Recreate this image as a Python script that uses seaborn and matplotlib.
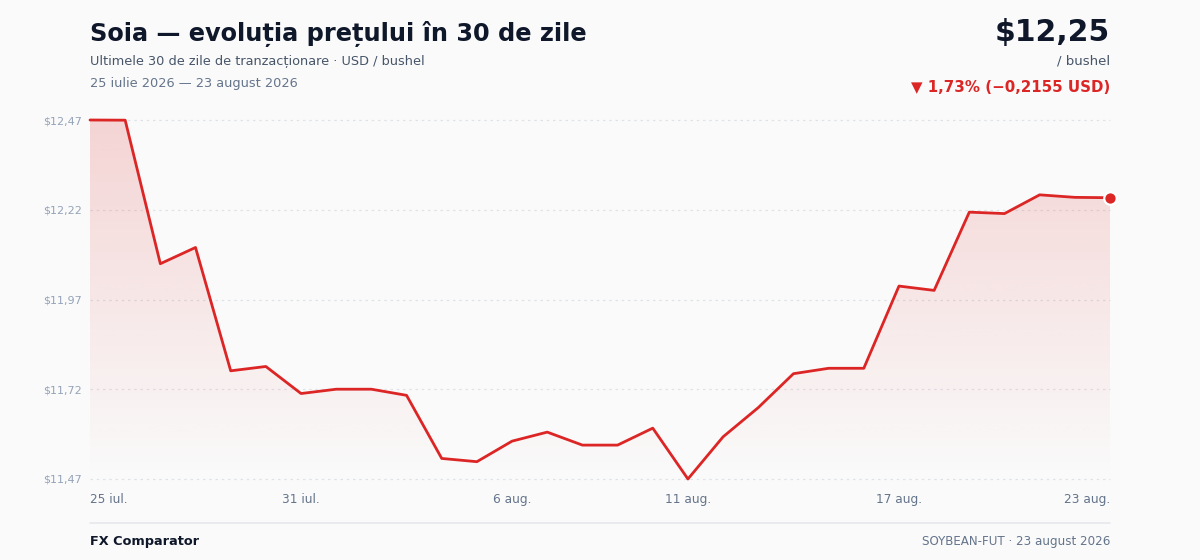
import numpy as np
import pandas as pd
import matplotlib
matplotlib.use("Agg")
import matplotlib.pyplot as plt
import seaborn as sns

# 30 zile de tranzactionare, 25 iul. - 23 aug. 2026
dates = pd.date_range("2026-07-25", "2026-08-23", freq="D")
prices = [12.4655, 12.4650, 12.067, 12.112, 11.770, 11.782, 11.707, 11.719, 11.719, 11.702,
          11.527, 11.518, 11.575, 11.600, 11.564, 11.564, 11.611, 11.470, 11.587, 11.668,
          11.762, 11.777, 11.777, 12.005, 11.993, 12.210, 12.206, 12.258, 12.251, 12.250]
tick_idx = [0, 6, 12, 17, 23, 29]
tick_labels = ["25 iul.", "31 iul.", "6 aug.", "11 aug.", "17 aug.", "23 aug."]

title = "Soia — evoluția prețului în 30 de zile"
subtitle = "Ultimele 30 de zile de tranzacționare · USD / bushel"
period = "25 iulie 2026 — 23 august 2026"
footer_left = "FX Comparator"
footer_right = "SOYBEAN-FUT · 23 august 2026"

RED = "#dc2626"
BG = "#fafafa"

df = pd.DataFrame({"i": np.arange(len(prices)), "date": dates, "price": prices})

first, last = prices[0], prices[-1]
change = last - first
pct = change / first * 100


def ro(v, nd=2):
    return f"{v:.{nd}f}".replace(".", ",")


sns.set_theme(style="white")
plt.rcParams["font.family"] = ["DejaVu Sans"]

fig = plt.figure(figsize=(12, 5.6), dpi=100, facecolor=BG)
ax = fig.add_axes([90 / 1200, 1 - 479 / 560, 1020 / 1200, 359 / 560])
ax.set_facecolor(BG)

lo, hi = min(prices), max(prices)
ax.set_xlim(0, len(prices) - 1)
ax.set_ylim(lo, hi)

# gridlines
yticks = np.linspace(lo, hi, 5)
for yt in yticks:
    ax.axhline(yt, color="#dfe3e8", lw=0.9, ls=(0, (2, 3)), zorder=0)

# gradient fill under the line
fill = ax.fill_between(df["i"], df["price"], lo, color="none", lw=0)
grad = np.zeros((256, 1, 4))
grad[:, 0, 0], grad[:, 0, 1], grad[:, 0, 2] = 220 / 255, 38 / 255, 38 / 255
grad[:, 0, 3] = np.linspace(0.18, 0.0, 256)
img = ax.imshow(grad, aspect="auto", extent=[0, len(prices) - 1, lo, hi],
                origin="upper", zorder=1, interpolation="bicubic")
img.set_clip_path(fill.get_paths()[0], transform=ax.transData)

sns.lineplot(data=df, x="i", y="price", ax=ax, color=RED, lw=2, zorder=3)
for l in ax.lines:
    l.set_clip_on(False)
ax.plot(df["i"].iloc[-1], last, "o", color=RED, ms=9, mec="white", mew=1.6,
        zorder=4, clip_on=False)

ax.set_xlabel("")
ax.set_ylabel("")
ax.set_yticks(yticks)
ax.set_yticklabels(["$" + ro(v) for v in yticks], fontsize=8, color="#94a3b8")
ax.set_xticks(tick_idx)
ax.set_xticklabels(tick_labels, fontsize=8.7, color="#64748b")
xt = ax.get_xticklabels()
xt[0].set_ha("left")
xt[-1].set_ha("right")
ax.tick_params(axis="x", length=0, pad=10)
ax.tick_params(axis="y", length=0, pad=6)
for s in ax.spines.values():
    s.set_visible(False)

# header
fig.text(90 / 1200, 1 - 34 / 560, title, fontsize=17.3, fontweight="bold",
         color="#0f172a", va="center", ha="left")
fig.text(90 / 1200, 1 - 61 / 560, subtitle, fontsize=9.3, color="#475569",
         va="center", ha="left")
fig.text(90 / 1200, 1 - 83 / 560, period, fontsize=9.3, color="#64748b",
         va="center", ha="left")

fig.text(1110 / 1200, 1 - 33 / 560, "$" + ro(last), fontsize=21.5, fontweight="bold",
         color="#0f172a", va="center", ha="right")
fig.text(1110 / 1200, 1 - 61 / 560, "/ bushel", fontsize=9.6, color="#475569",
         va="center", ha="right")
arrow = "▼" if change < 0 else "▲"
fig.text(1110 / 1200, 1 - 87 / 560,
         f"{arrow} {ro(abs(pct))}% ({'−' if change < 0 else '+'}{ro(abs(change), 4)} USD)",
         fontsize=10.8, fontweight="bold", color=RED, va="center", ha="right")

# footer
fig.add_artist(plt.Line2D([90 / 1200, 1110 / 1200], [1 - 523 / 560] * 2,
                          color="#e5e7eb", lw=1.2))
fig.text(90 / 1200, 1 - 541 / 560, footer_left, fontsize=9.3, fontweight="bold",
         color="#0f172a", va="center", ha="left")
fig.text(1110 / 1200, 1 - 541 / 560, footer_right, fontsize=8.6, color="#64748b",
         va="center", ha="right")

fig.savefig("out.png", dpi=100, facecolor=BG)
plt.close(fig)
